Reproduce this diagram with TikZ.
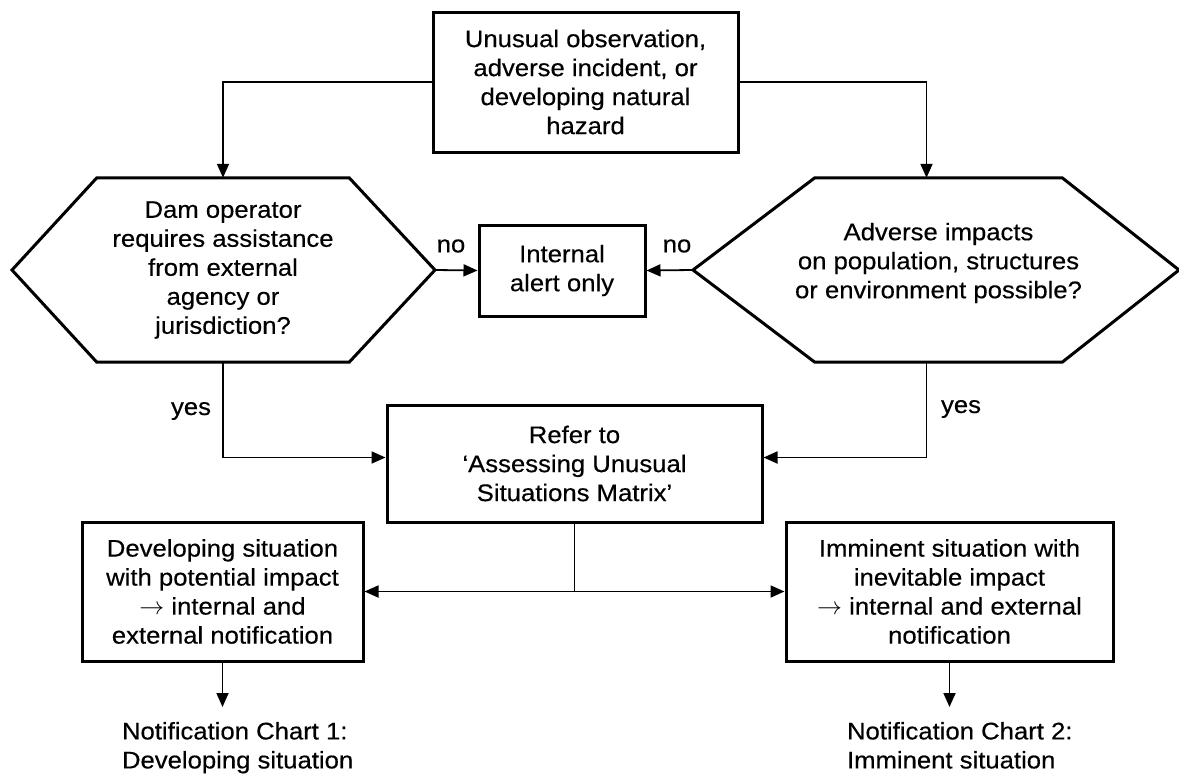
\documentclass[tikz,border=0pt]{standalone}
\usepackage{fontspec}
\setmainfont{Liberation Sans}[FakeStretch=1.07,FakeBold=0.4]
\usetikzlibrary{arrows.meta}

\begin{document}
\begin{tikzpicture}[x=1pt,y=-1pt,
  every node/.style={font=\fontsize{24}{29}\selectfont, align=center, inner sep=0pt},
  box/.style={draw, line width=3pt},
  hexline/.style={line width=3pt},
  conn/.style={line width=1.8pt},
  arr/.style={conn, -{Triangle[length=14pt,width=12pt]}},
  dblarr/.style={conn, {Triangle[length=14pt,width=12pt]}-{Triangle[length=14pt,width=12pt]}}]
  \useasboundingbox (0,0) rectangle (1179,774);

  % boxes
  \node[box, minimum width=305, minimum height=140] (event) at (585.5,82)
    {Unusual observation,\\adverse incident, or\\developing natural\\hazard};
  \node[box, minimum width=166, minimum height=91] (internal) at (562,270.5)
    {Internal\\alert only};
  \node[box, minimum width=375, minimum height=117] (refer) at (574.5,463.5)
    {Refer to\\‘Assessing Unusual\\Situations Matrix’};
  \node[box, minimum width=281, minimum height=139] (develop) at (222.5,591.5)
    {Developing situation\\with potential impact\\$\rightarrow$ internal and\\external notification};
  \node[box, minimum width=327, minimum height=139] (imminent) at (949.5,591.5)
    {Imminent situation with\\inevitable impact\\$\rightarrow$ internal and external\\notification};

  % decisions
  \node[minimum width=252, minimum height=184] (dam) at (223,270)
    {Dam operator\\requires assistance\\from external\\agency or\\jurisdiction?};
  \coordinate (damL) at (12,270);
  \coordinate (damR) at (435,270);
  \draw[hexline] (dam.north west) -- (dam.north east) -- (damR)
    -- (dam.south east) -- (dam.south west) -- (damL) -- cycle;

  \node[minimum width=247, minimum height=184] (adverse) at (938.5,270) {};
  \node (adverseTxt) at (938.5,263)
    {Adverse impacts\\on population, structures\\or environment possible?};
  \coordinate (advL) at (693,270);
  \coordinate (advR) at (1179,270);
  \draw[hexline] (adverse.north west) -- (adverse.north east) -- (advR)
    -- (adverse.south east) -- (adverse.south west) -- (advL) -- cycle;

  % outcomes
  \node[anchor=north west, align=left, outer xsep=0pt, outer ysep=15pt] (chart1) at (122,707)
    {Notification Chart 1:\\Developing situation};
  \node[anchor=north west, align=left, outer xsep=0pt, outer ysep=15pt] (chart2) at (847,707)
    {Notification Chart 2:\\Imminent situation};

  % labels
  \node (noL) at (451,246) {no};
  \node (noR) at (677,246) {no};
  \node (yesL) at (191,411) {yes};
  \node (yesR) at (961,409) {yes};

  % connectors
  \draw[arr] (event.west) -| (dam.north);
  \draw[arr] (event.east) -| ([xshift=-12pt]adverse.north);
  \draw[arr] (damR) -- (internal.west);
  \draw[arr] (advL) -- (internal.east);
  \draw[arr] (dam.south) |- ([yshift=6pt]refer.west);
  \draw[arr] ([xshift=-12pt]adverse.south) |- ([yshift=6pt]refer.east);
  \coordinate (split) at (refer.south |- develop.east);
  \draw[conn] (refer.south) -- (split);
  \draw[dblarr] (develop.east) -- (imminent.west);
  \draw[arr] (develop.south) -- (develop.south |- chart1.north);
  \draw[arr] (imminent.south) -- (imminent.south |- chart2.north);
\end{tikzpicture}
\end{document}
